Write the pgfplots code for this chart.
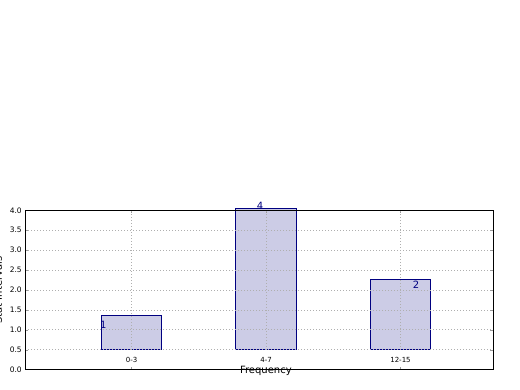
\documentclass[border=0pt]{standalone}
\usepackage{fontspec}
\setmainfont{DejaVu Sans}
\usepackage{pgfplots}
\usepackage{pgfplotstable}
\pgfplotsset{compat=1.18}
\definecolor{barfill}{RGB}{204,204,230}
\definecolor{navy}{RGB}{0,0,128}
\definecolor{gridgray}{RGB}{175,175,175}
\pgfplotstableread{
x top
0 1.355
1 4.05
2 2.27
}\bars
\begin{document}
\begin{tikzpicture}[x=1pt,y=1pt]
\useasboundingbox (0,0) rectangle (520,390);
\begin{axis}[
  axis on top,
  at={(25.3pt,20.3pt)}, anchor=south west,
  width=468pt, height=159.4pt, scale only axis,
  xmin=-0.79, xmax=2.69, ymin=0, ymax=4,
  ytick={0,0.5,...,4},
  yticklabel style={/pgf/number format/fixed,/pgf/number format/precision=1,/pgf/number format/fixed zerofill, font=\fontsize{7.5}{8}\selectfont},
  /pgf/number format/assume math mode=true,
  xtick={0,1,2}, xticklabels={0-3,4-7,12-15},
  xticklabel style={font=\fontsize{7}{8}\selectfont, yshift=15.5pt},
  tick align=inside, major tick length=3pt,
  every tick/.style={gray!80},
  ymajorgrids, grid style={dash pattern=on 1pt off 2pt, gridgray, line width=0.8pt},
  axis line style={black, line width=0.8pt},
  ybar stacked, bar width=0.45,
  xlabel={Frequency}, ylabel={Stat Intervals},
  xlabel style={at={(rel axis cs:0.514,-0.005)}, anchor=center, font=\fontsize{10}{12}\selectfont},
  ylabel style={at={(rel axis cs:-0.058,0.5)}, anchor=center, rotate=0, font=\fontsize{10}{12}\selectfont},
  clip=false,
]
\addplot[draw=none, fill=none] table[x=x, y expr=0.5] {\bars};
\addplot[fill=barfill, draw=navy, line width=0.8pt] table[x=x, y expr=\thisrow{top}-0.5] {\bars};
\coordinate (g0a) at (axis cs:0,0.5); \coordinate (g0b) at (axis cs:0,4);
\coordinate (g1a) at (axis cs:1,0.5); \coordinate (g1b) at (axis cs:1,4);
\coordinate (g2a) at (axis cs:2,0.5); \coordinate (g2b) at (axis cs:2,4);
\coordinate (l1) at (axis cs:-0.21,1.12);
\coordinate (l4) at (axis cs:0.955,4.11);
\coordinate (l2) at (axis cs:2.115,2.13);
\end{axis}
\foreach \i in {0,1,2} {
  \draw[dash pattern=on 1pt off 2pt, gridgray, line width=0.8pt] (g\i a) -- (g\i b);
}
\node[navy, font=\fontsize{10}{12}\selectfont] at (l1) {1};
\node[navy, font=\fontsize{10}{12}\selectfont] at (l4) {4};
\node[navy, font=\fontsize{10}{12}\selectfont] at (l2) {2};
\end{tikzpicture}
\end{document}
